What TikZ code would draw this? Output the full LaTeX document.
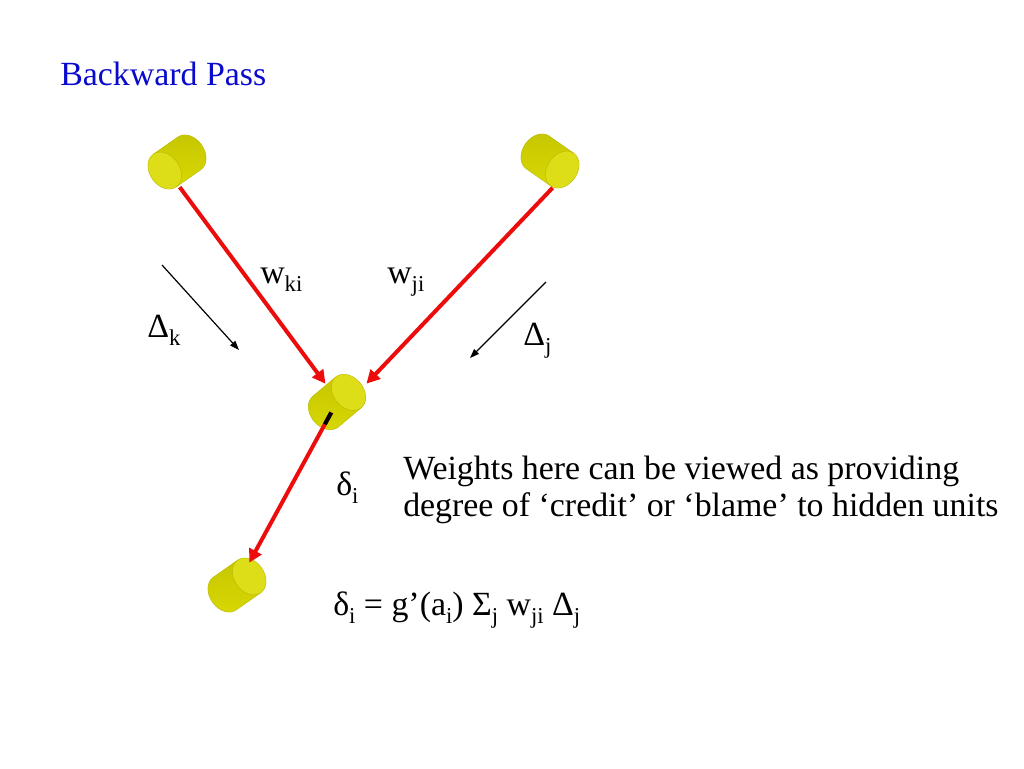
\documentclass[tikz,border=0pt]{standalone}
\usepackage{fontspec}
\setmainfont{Liberation Serif}
\usetikzlibrary{arrows.meta,calc}
\definecolor{canbody}{HTML}{D8D804}
\definecolor{canlight}{HTML}{ECEC44}
\definecolor{candark}{HTML}{C6C600}
\definecolor{canend}{HTML}{DEDE18}
\definecolor{canedge}{HTML}{B8B800}
\definecolor{wirered}{HTML}{EC0C0C}
\definecolor{titleblue}{HTML}{0A0ACC}
\newcommand{\slidefont}{\fontsize{25.4}{27.75}\selectfont}
\newcommand{\lsub}[1]{\raisebox{-0.26em}{\fontsize{17}{17}\selectfont #1}}
\tikzset{
  unitcan/.pic={
    \shade[top color=candark,middle color=canlight,bottom color=canbody,draw=canedge,line width=0.3pt]
      (15,20) -- (-15,20) arc[start angle=90,end angle=270,x radius=15,y radius=20] -- (15,-20) -- cycle;
    \filldraw[fill=canend,draw=canedge,line width=0.3pt] (15,0) ellipse[x radius=15,y radius=20];
  },
  wire/.style={-{Triangle[length=10pt,width=10pt]},line width=3pt,draw=wirered},
  hint/.style={-{Triangle[length=7pt,width=5pt]},line width=0.9pt,draw=black},
  lbl/.style={anchor=base west,inner sep=0pt,font=\slidefont}
}
\begin{document}
\begin{tikzpicture}[x=0.75pt,y=-0.75pt]
  \useasboundingbox (0,0) rectangle (1024,768);
  % title
  \node[lbl,text=titleblue] (title) at (60,85) {Backward Pass};
  % units
  \coordinate (unitk) at (177,162);
  \coordinate (unitj) at (550,161);
  \coordinate (uniti) at (337,402);
  \coordinate (unito) at (237,585);
  \pic[rotate=215] at (unitk) {unitcan};
  \pic[rotate=325] at (unitj) {unitcan};
  \pic[rotate=40] at (uniti) {unitcan};
  \pic[rotate=35] at (unito) {unitcan};
  % weights back to hidden unit
  \draw[wire,shorten <=16pt,shorten >=17pt] ([shift={(-10,8)}]unitk) -- ([shift={(2,0)}]uniti);
  \draw[wire,shorten <=8pt,shorten >=19pt] ([shift={(10,19)}]unitj) -- ([shift={(12,0)}]uniti);
  \draw[wire,shorten <=9pt,shorten >=19pt] (uniti) -- (unito);
  \draw[line width=3pt,black] ($(uniti)!9pt!(unito)$) -- ($(uniti)!19pt!(unito)$);
  % error flow
  \coordinate (dkfrom) at (162,265);
  \coordinate (dkto) at (239,350);
  \coordinate (djfrom) at (546,282);
  \coordinate (djto) at (470,358);
  \draw[hint] (dkfrom) -- (dkto);
  \draw[hint] (djfrom) -- (djto);
  % labels
  \node[lbl] (wki) at (260,283) {w\lsub{ki}};
  \node[lbl] (wji) at (387,283) {w\lsub{ji}};
  \node[lbl] (dk) at (147,337) {Δ\lsub{k}};
  \node[lbl] (dj) at (523,345) {Δ\lsub{j}};
  \node[lbl] (di) at (336,495) {δ\lsub{i}};
  \node[lbl,align=left] (note) at (403,516) {Weights here can be viewed as providing\\degree of ‘credit’ or ‘blame’ to hidden units};
  \node[lbl] (rule) at (333,615) {δ\lsub{i} = g’(a\lsub{i}) Σ\lsub{j} w\lsub{ji} Δ\lsub{j}};
\end{tikzpicture}
\end{document}
